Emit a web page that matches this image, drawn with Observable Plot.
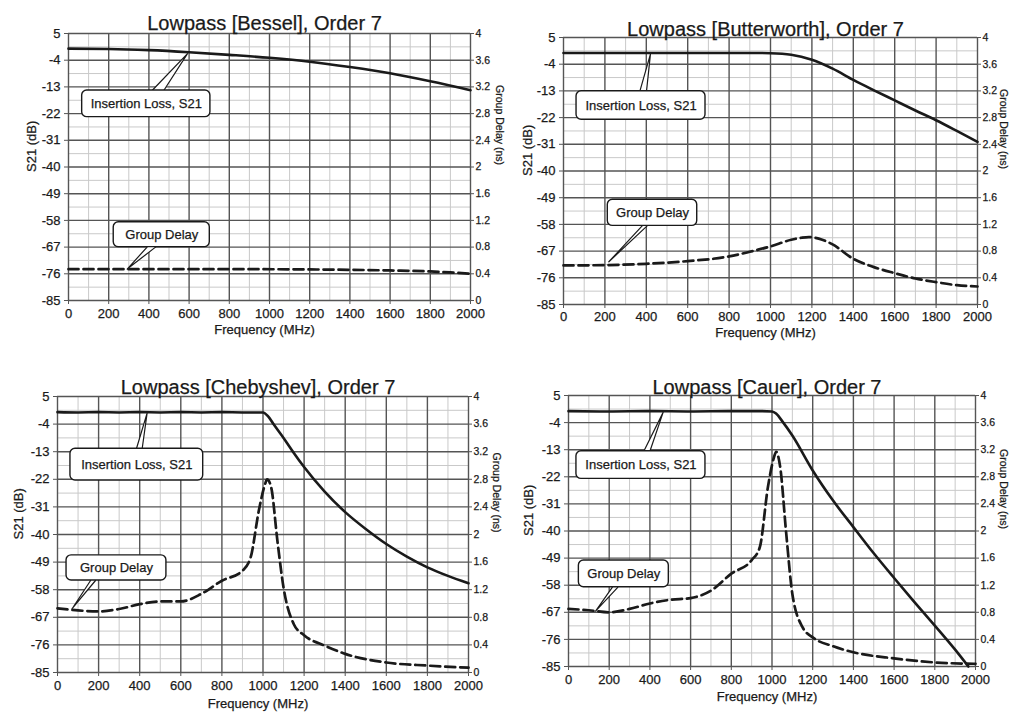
<!DOCTYPE html>
<html>
<head>
<meta charset="utf-8">
<script src="https://cdn.jsdelivr.net/npm/d3@7"></script>
<script src="https://cdn.jsdelivr.net/npm/@observablehq/plot@0.6"></script>
<style>
  html, body { margin: 0; padding: 0; background: #fff; }
  #page { position: relative; width: 1009px; height: 717px; overflow: hidden; background: #fff; }
  .panel { position: absolute; }
  .panel svg { display: block; overflow: visible; }
  .panel g[aria-label="x-axis tick label"],
  .panel g[aria-label="y-axis tick label"] { font-size: 13px; fill: #1a1a1a; }
  .panel text { stroke: #1a1a1a; stroke-width: 0.25px; }
</style>
</head>
<body>
<div id="page"></div>
<script>
// ---- axis ticks ----
const freqTicks = [0, 200, 400, 600, 800, 1000, 1200, 1400, 1600, 1800, 2000];
const s21Ticks = [5, -4, -13, -22, -31, -40, -49, -58, -67, -76, -85];
const delayTicks = [0, 0.4, 0.8, 1.2, 1.6, 2, 2.4, 2.8, 3.2, 3.6, 4];

// ---- Bessel ----
const besselS21Freq = [0, 200, 400, 600, 800, 1000, 1200, 1400, 1600, 1800, 2000];
const besselS21 = [-0.1, -0.2, -0.6, -1.3, -2.2, -3.2, -4.5, -6.3, -8.4, -11.1, -14.1];
const besselDelayFreq = [0, 400, 800, 1200, 1400, 1600, 1800, 1900, 2000];
const besselDelay = [0.47, 0.47, 0.47, 0.465, 0.46, 0.45, 0.435, 0.42, 0.40];

// ---- Butterworth ----
const butterS21Freq = [0, 200, 400, 600, 800, 900, 1000, 1100, 1200, 1300, 1400, 1500, 1600, 1700, 1800, 1900, 2000];
const butterS21 = [-0.2, -0.2, -0.2, -0.2, -0.2, -0.2, -0.3, -0.8, -2.5, -5.5, -9.3, -12.8, -16.2, -19.6, -22.9, -26.5, -30.2];
const butterDelayFreq = [0, 200, 400, 600, 800, 900, 1000, 1100, 1150, 1185, 1250, 1300, 1400, 1500, 1600, 1700, 1800, 1900, 2000];
const butterDelay = [0.585, 0.59, 0.61, 0.65, 0.72, 0.79, 0.87, 0.97, 1.0, 1.01, 0.97, 0.9, 0.685, 0.56, 0.47, 0.39, 0.335, 0.29, 0.27];

// ---- Chebyshev ----
const chebyS21Freq = [0, 100, 200, 300, 400, 500, 600, 700, 800, 900, 1000, 1025, 1050, 1100, 1150, 1200, 1300, 1400, 1500, 1600, 1700, 1800, 1900, 2000];
const chebyS21 = [-0.1, -0.2, -0.1, -0.2, -0.1, -0.2, -0.1, -0.2, -0.1, -0.2, -0.2, -1.5, -3.9, -8.5, -13.4, -18.0, -26.0, -32.7, -38.2, -43.1, -47.2, -50.7, -53.5, -55.9];
const chebyDelayFreq = [0, 100, 200, 300, 400, 500, 600, 700, 800, 900, 940, 980, 1010, 1020, 1040, 1070, 1100, 1150, 1200, 1300, 1400, 1600, 1800, 2000];
const chebyDelay = [0.93, 0.9, 0.885, 0.92, 0.99, 1.03, 1.03, 1.14, 1.33, 1.475, 1.67, 2.35, 2.73, 2.8, 2.68, 1.91, 1.23, 0.70, 0.54, 0.39, 0.27, 0.145, 0.10, 0.07];

// ---- Cauer ----
const cauerS21Freq = [0, 200, 400, 600, 800, 950, 1000, 1020, 1050, 1100, 1200, 1300, 1400, 1500, 1600, 1700, 1800, 1900, 1965];
const cauerS21 = [-0.2, -0.3, -0.2, -0.3, -0.2, -0.2, -0.3, -1.0, -3.5, -8.3, -19.9, -29.9, -38.7, -47.4, -55.6, -63.6, -71.4, -79.4, -85];
const cauerDelayFreq = [0, 100, 200, 300, 400, 500, 600, 700, 800, 900, 940, 980, 1010, 1020, 1040, 1070, 1100, 1150, 1200, 1300, 1400, 1600, 1800, 2000];
const cauerDelay = [0.85, 0.83, 0.80, 0.85, 0.93, 0.985, 1.01, 1.12, 1.37, 1.57, 1.76, 2.65, 3.09, 3.17, 2.95, 1.96, 1.07, 0.58, 0.43, 0.30, 0.21, 0.12, 0.06, 0.04];

// ---- callout annotations (box corners, pointer base and tip, in MHz / dB) ----
const besselCallouts = [
  {label: "Insertion Loss, S21", x1: 68, x2: 706, y1: -14.2, y2: -23.2, bx1: 416, bx2: 474, by: -14.2, tx: 592, ty: -1.8},
  {label: "Group Delay", x1: 225, x2: 703, y1: -58.6, y2: -67.0, bx1: 391, bx2: 433, by: -67.0, tx: 292, ty: -74.4}
];
const butterCallouts = [
  {label: "Insertion Loss, S21", x1: 63, x2: 686, y1: -13.1, y2: -22.7, bx1: 369, bx2: 401, by: -13.1, tx: 420, ty: -0.6},
  {label: "Group Delay", x1: 214, x2: 646, y1: -49.7, y2: -58.5, bx1: 380, bx2: 404, by: -58.5, tx: 219, ty: -70.6}
];
const chebyCallouts = [
  {label: "Insertion Loss, S21", x1: 63, x2: 709, y1: -12.05, y2: -22.4, bx1: 384, bx2: 412, by: -12.05, tx: 436, ty: -0.4},
  {label: "Group Delay", x1: 44, x2: 530, y1: -46.8, y2: -55.0, bx1: 161, bx2: 185, by: -55.0, tx: 71, ty: -64.2}
];
const cauerCallouts = [
  {label: "Insertion Loss, S21", x1: 39, x2: 673, y1: -13.5, y2: -22.7, bx1: 370, bx2: 400, by: -13.5, tx: 465, ty: -0.6},
  {label: "Group Delay", x1: 51, x2: 493, y1: -49.8, y2: -58.7, bx1: 215, bx2: 242, by: -58.7, tx: 133, ty: -66.6}
];

const FONT = "'Liberation Sans', Arial, Helvetica, sans-serif";
const INK = "#1a1a1a";
const GRID_MAJOR = "#555";
const GRID_MINOR = "#c9c9c9";

// Group delay (0–4 ns) shares the frame with S21 (-85…5 dB)
const delayToDb = v => -85 + v * 22.5;
const dbToDelay = d => String(+((d + 85) / 22.5).toFixed(1));

const pairs = (xs, ys) => xs.map((x, i) => ({x, y: ys[i]}));

function drawPanel(cfg) {
  const {title, s21F, s21, gdF, gd, callouts, left, top, width, height, m, lab} = cfg;
  const il = pairs(s21F, s21);
  const delay = pairs(gdF, gd);
  const minorX = d3.range(100, 2000, 200);
  const minorY = d3.range(0, 10).map(i => -80.5 + i * 9);

  const pointerMarks = callouts.map(c =>
    Plot.line(
      [{x: c.bx1, y: c.by}, {x: c.tx, y: c.ty}, {x: c.bx2, y: c.by}],
      {x: "x", y: "y", fill: "white", stroke: INK, strokeWidth: 1.2, curve: "linear"}
    )
  );

  const svg = Plot.plot({
    width, height,
    marginLeft: m[0], marginRight: m[1], marginTop: m[2], marginBottom: m[3],
    style: {fontFamily: FONT, fontSize: "13px", color: INK, background: "transparent"},
    x: {domain: [0, 2000], axis: null},
    y: {domain: [-85, 5], axis: null},
    marks: [
      // grid: light minor lines, darker major lines
      Plot.gridX(minorX, {stroke: GRID_MINOR, strokeOpacity: 1, strokeWidth: 1}),
      Plot.gridY(minorY, {stroke: GRID_MINOR, strokeOpacity: 1, strokeWidth: 1}),
      Plot.gridX(freqTicks, {stroke: GRID_MAJOR, strokeOpacity: 1, strokeWidth: 1.4}),
      Plot.gridY(s21Ticks, {stroke: GRID_MAJOR, strokeOpacity: 1, strokeWidth: 1.4}),
      // axes
      Plot.axisX(freqTicks, {anchor: "bottom", tickSize: 4, tickPadding: lab.pad, label: null,
        stroke: GRID_MAJOR, tickFormat: d => String(d)}),
      Plot.axisY(s21Ticks, {anchor: "left", tickSize: 4, tickPadding: 4, label: null,
        stroke: GRID_MAJOR, tickFormat: d => String(d)}),
      Plot.axisY(delayTicks.map(delayToDb), {anchor: "right", tickSize: 3, tickPadding: 2, label: null,
        tickFormat: dbToDelay, stroke: GRID_MAJOR}),
      // curves
      Plot.line(delay, {x: "x", y: d => delayToDb(d.y), stroke: INK, strokeWidth: 2.7,
        strokeDasharray: "10,5", curve: "monotone-x"}),
      Plot.line(il, {x: "x", y: "y", stroke: INK, strokeWidth: 2.6, curve: "monotone-x"}),
      // callouts
      ...pointerMarks,
      Plot.rect(callouts, {x1: "x1", x2: "x2", y1: "y1", y2: "y2", fill: "white", stroke: INK, strokeWidth: 1.4, rx: 5}),
      Plot.text(callouts, {x: c => (c.x1 + c.x2) / 2, y: c => (c.y1 + c.y2) / 2, text: "label",
        fontSize: 13, fill: INK}),
      // titles
      Plot.text([title], {frameAnchor: "top", dx: -5, dy: lab.title, fontSize: 20, fill: INK}),
      Plot.text(["Frequency (MHz)"], {frameAnchor: "bottom", dx: -5, dy: lab.bottom, fontSize: 13, fill: INK}),
      Plot.text(["S21 (dB)"], {frameAnchor: "left", dx: lab.left, dy: 5, rotate: -90, fontSize: 13, fill: INK}),
      Plot.text(["Group Delay (ns)"], {frameAnchor: "right", dx: lab.right, dy: -2, rotate: 90, fontSize: 10.5, fill: INK})
    ]
  });

  // smaller labels on the group-delay (right) axis
  const yLabelGroups = svg.querySelectorAll('g[aria-label="y-axis tick label"]');
  if (yLabelGroups.length === 2) yLabelGroups[1].style.fontSize = "10.5px";

  const div = document.createElement("div");
  div.className = "panel";
  div.style.left = left + "px";
  div.style.top = top + "px";
  div.appendChild(svg);
  document.getElementById("page").appendChild(div);
}

drawPanel({
  title: "Lowpass [Bessel], Order 7",
  s21F: besselS21Freq, s21: besselS21, gdF: besselDelayFreq, gd: besselDelay, callouts: besselCallouts,
  left: 0, top: 0, width: 505, height: 340, m: [68, 35, 33, 40],
  lab: {title: -18, bottom: 33, left: -37, right: 29, pad: 4}
});
drawPanel({
  title: "Lowpass [Butterworth], Order 7",
  s21F: butterS21Freq, s21: butterS21, gdF: butterDelayFreq, gd: butterDelay, callouts: butterCallouts,
  left: 500, top: 0, width: 509, height: 342, m: [63, 32, 37, 38],
  lab: {title: -16, bottom: 32, left: -36, right: 26, pad: 3}
});
drawPanel({
  title: "Lowpass [Chebyshev], Order 7",
  s21F: chebyS21Freq, s21: chebyS21, gdF: chebyDelayFreq, gd: chebyDelay, callouts: chebyCallouts,
  left: 0, top: 360, width: 505, height: 352, m: [57, 37, 36, 40],
  lab: {title: -17, bottom: 35, left: -39, right: 28, pad: 4}
});
drawPanel({
  title: "Lowpass [Cauer], Order 7",
  s21F: cauerS21Freq, s21: cauerS21, gdF: cauerDelayFreq, gd: cauerDelay, callouts: cauerCallouts,
  left: 500, top: 360, width: 509, height: 351, m: [68, 34, 35, 45],
  lab: {title: -16, bottom: 34, left: -40, right: 28, pad: 4}
});
</script>
</body>
</html>
